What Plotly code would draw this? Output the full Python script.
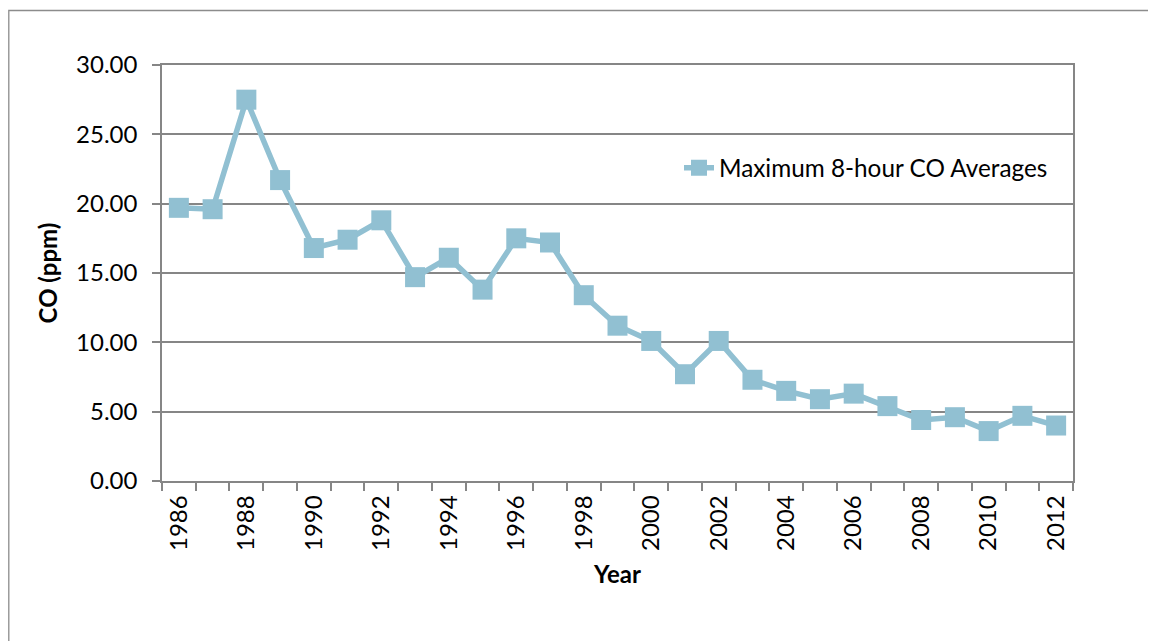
import plotly.graph_objects as go

years = list(range(1986, 2013))
co_max8h = [19.7, 19.6, 27.5, 21.7, 16.8, 17.4, 18.8, 14.7, 16.1, 13.8,
            17.5, 17.2, 13.4, 11.2, 10.1, 7.7, 10.1, 7.3, 6.5, 5.9,
            6.3, 5.4, 4.4, 4.6, 3.6, 4.7, 4.0]
series_name = "Maximum 8-hour CO Averages"
y_title = "CO (ppm)"
x_title = "Year"
label_years = years[::2]

LINE_COLOR = "#91C0D2"
GRID = "#868686"
FONT = "Lato"

fig = go.Figure()
fig.add_trace(go.Scatter(
    x=years, y=co_max8h, name=series_name, mode="lines+markers",
    line=dict(color=LINE_COLOR, width=5.5),
    marker=dict(symbol="square", size=20, color=LINE_COLOR),
    showlegend=True,
))

OFF = 8  # page body margin offset
W, H = 1156, 641
L, T = 162 - OFF, 65 - OFF
R = W - (1073 - OFF)
B = H - (481 - OFF)
pw, ph = W - L - R, H - T - B

def px_to_paper_x(px):
    return (px - OFF - L) / pw

def px_to_paper_y(py):
    return (H - B - (py - OFF)) / ph

fig.update_layout(
    width=W, height=H,
    margin=dict(l=L, r=R, t=T, b=B, pad=0),
    paper_bgcolor="white", plot_bgcolor="white",
    font=dict(family=FONT, size=22, color="black"),
    showlegend=True,
    legend=dict(x=px_to_paper_x(679), y=px_to_paper_y(168), xanchor="left", yanchor="middle",
                bgcolor="rgba(0,0,0,0)", font=dict(family=FONT, size=24.3, color="black")),
    xaxis=dict(
        range=[years[0] - 0.5, years[-1] + 0.5],
        tickmode="array", tickvals=label_years, ticktext=[str(y) for y in label_years],
        tickangle=-90, ticks="", showgrid=False, ticklabelstandoff=3,
        showline=True, linecolor=GRID, linewidth=1.5, mirror=True,
        minor=dict(ticks="outside", tick0=years[0] - 0.5, dtick=1, ticklen=8,
                   tickcolor=GRID, tickwidth=1.5, showgrid=False),
        tickfont=dict(family=FONT, size=24, color="black"),
        title=dict(text="<b>" + x_title + "</b>", font=dict(family=FONT, size=24, color="black"), standoff=16),
        zeroline=False,
    ),
    yaxis=dict(
        range=[0, 30], dtick=5, tick0=0, tickformat=".2f",
        ticks="outside", ticklen=8, tickcolor=GRID, tickwidth=1.5, ticklabelstandoff=10,
        showgrid=True, gridcolor=GRID, gridwidth=1.5,
        showline=True, linecolor=GRID, linewidth=1.5, mirror=True,
        tickfont=dict(family=FONT, size=24, color="black"),
        title=dict(text="<b>" + y_title + "</b>", font=dict(family=FONT, size=24, color="black"), standoff=12),
        zeroline=False,
    ),
    shapes=[dict(type="rect", xref="paper", yref="paper",
                 x0=px_to_paper_x(OFF + 0.8), x1=px_to_paper_x(1175),
                 y0=px_to_paper_y(660), y1=px_to_paper_y(10.5),
                 line=dict(color="#8c8c8c", width=1.3), fillcolor="rgba(0,0,0,0)", layer="below")],
)

fig.write_html("out.html")
